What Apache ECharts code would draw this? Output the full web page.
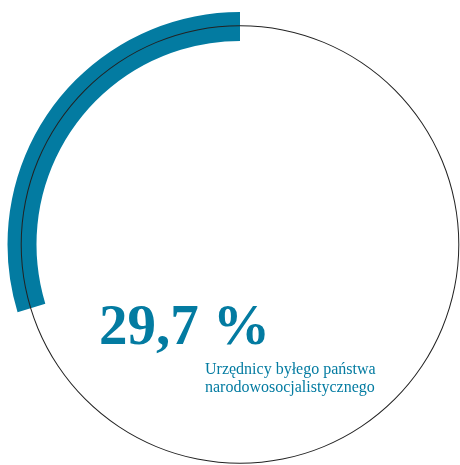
<!DOCTYPE html>
<html>
<head>
<meta charset="utf-8">
<script src="https://cdn.jsdelivr.net/npm/echarts@6/dist/echarts.min.js"></script>
<style>html,body{margin:0;padding:0;background:#fff}#c{width:460px;height:465px}</style>
</head>
<body>
<div id="c"></div>
<script>
const shareLabel = '29,7 %';
const shareValue = 29.7;
const restValue = 70.3;
const caption = ['Urzędnicy byłego państwa', 'narodowosocjalistycznego'];
const teal = '#037ba1';

const chart = echarts.init(document.getElementById('c'), null, {renderer: 'canvas'});
chart.setOption({
  animation: false,
  title: [
    {
      text: shareLabel,
      left: 99, top: 299, padding: 0,
      textStyle: {fontFamily: 'Liberation Serif', fontWeight: 'bold', fontSize: 57, color: teal, lineHeight: 60}
    },
    {
      text: caption.join('\n'),
      left: 205, top: 361, padding: 0,
      textStyle: {fontFamily: 'Liberation Serif', fontWeight: 'normal', fontSize: 16, color: teal, lineHeight: 18}
    }
  ],
  series: [
    {
      type: 'pie',
      silent: true,
      center: [240, 244.5],
      radius: [203.5, 232.5],
      startAngle: 90,
      clockwise: false,
      label: {show: false},
      labelLine: {show: false},
      emphasis: {disabled: true},
      z: 1,
      data: [
        {value: shareValue, itemStyle: {color: teal}},
        {value: restValue, itemStyle: {color: 'rgba(0,0,0,0)'}}
      ]
    },
    {
      type: 'pie',
      silent: true,
      center: [240, 244.5],
      radius: [218.3, 219.3],
      label: {show: false},
      labelLine: {show: false},
      emphasis: {disabled: true},
      z: 3,
      data: [{value: shareValue + restValue, itemStyle: {color: '#222'}}]
    }
  ]
});
</script>
</body>
</html>
